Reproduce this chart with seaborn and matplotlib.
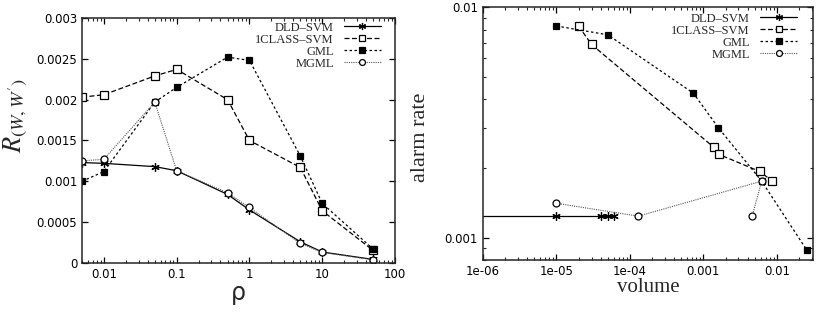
import numpy as np
import matplotlib
matplotlib.use("Agg")
import matplotlib.pyplot as plt
import matplotlib.ticker as mticker
import seaborn as sns
import pandas as pd

# left panel: R(W,W') against rho
rho = [0.005, 0.01, 0.05, 0.1, 0.5, 1, 5, 10, 50]
r_dld = [0.00123, 0.00122, 0.00118, 0.00113, 0.00084, 0.00065, 0.00026, 0.000135, 0.000044]
r_1class = [0.00203, 0.00206, 0.00229, 0.00237, 0.00200, 0.00150, 0.00117, 0.00064, 0.000155]
r_gml = [0.00100, 0.00112, 0.00197, 0.00215, 0.00252, 0.00248, 0.00131, 0.00073, 0.000172]
r_mgml = [0.00125, 0.00127, 0.00197, 0.00113, 0.00086, 0.00068, 0.00024, 0.00013, 0.00004]

# right panel: alarm rate against volume
vol_dld = [1e-7, 1e-5, 4e-5, 5e-5, 6e-5]
ar_dld = [0.00124, 0.00124, 0.00124, 0.00124, 0.00124]
vol_1class = [2.0e-5, 3.0e-5, 1.38e-3, 1.62e-3, 5.8e-3, 8.7e-3]
ar_1class = [0.0083, 0.0069, 0.00247, 0.0023, 0.00194, 0.00176]
vol_gml = [1e-5, 5e-5, 7.3e-4, 1.6e-3, 6.2e-3, 0.0257]
ar_gml = [0.0083, 0.0076, 0.00424, 0.0030, 0.00176, 0.00088]
vol_mgml = [1e-5, 1.3e-4, 6.2e-3, 4.6e-3]
ar_mgml = [0.00141, 0.00124, 0.00176, 0.00124]

labels = ["DLD\u2013SVM", "1CLASS\u2013SVM", "GML", "MGML"]

sns.set_style("ticks")
plt.rcParams["font.family"] = ["DejaVu Sans"]
plt.rcParams["mathtext.fontset"] = "stix"
plt.rcParams["xtick.direction"] = "in"
plt.rcParams["ytick.direction"] = "in"
plt.rcParams["xtick.top"] = True
plt.rcParams["ytick.right"] = True
plt.rcParams["xtick.major.size"] = 4
plt.rcParams["ytick.major.size"] = 4
plt.rcParams["xtick.minor.size"] = 2
plt.rcParams["ytick.minor.size"] = 2
plt.rcParams["axes.linewidth"] = 1.1

styles = [
    dict(marker=(6, 2, 0), markersize=6, linestyle="-", color="black", lw=0.9, mec="black", mew=0.9),
    dict(marker="s", markersize=5.5, mfc="white", linestyle=(0, (4, 2)), color="black", lw=0.9, mec="black", mew=0.9),
    dict(marker="s", markersize=5, linestyle=(0, (2, 2)), color="black", lw=0.9, mec="black", mew=0.9),
    dict(marker="o", markersize=5, mfc="white", linestyle=(0, (1, 1)), color="#555555", lw=0.8, mec="black", mew=0.9),
]

fig = plt.figure(figsize=(8.2, 3.2), dpi=100)
ax1 = fig.add_axes([0.1, 0.178, 0.3817, 0.766])
ax2 = fig.add_axes([0.589, 0.1875, 0.4025, 0.7895])

ax1.set_xscale("log")
for ys, lab, st in zip([r_dld, r_1class, r_gml, r_mgml], labels, styles):
    df = pd.DataFrame({"x": rho, "y": ys})
    sns.lineplot(data=df, x="x", y="y", ax=ax1, sort=False, estimator=None, label=lab, **st)

ax1.set_xlim(0.005, 100)
ax1.set_ylim(0, 0.003)
ax1.xaxis.set_major_locator(mticker.FixedLocator([0.01, 0.1, 1, 10, 100]))
ax1.xaxis.set_major_formatter(mticker.FuncFormatter(lambda v, p: "%g" % v))
ax1.xaxis.set_minor_locator(mticker.LogLocator(base=10, subs=np.arange(2, 10), numticks=20))
ax1.xaxis.set_minor_formatter(mticker.NullFormatter())
ax1.yaxis.set_major_locator(mticker.MultipleLocator(0.0005))
ax1.yaxis.set_major_formatter(mticker.FuncFormatter(lambda v, p: "%g" % round(v, 6)))
ax1.set_xlabel("\u03c1", fontsize=17, labelpad=0)
ax1.set_ylabel(r"$R_{(W,W')}$", fontsize=19)
ax1.yaxis.set_label_coords(-0.165, 0.6)

ax2.set_xscale("log")
ax2.set_yscale("log")
for xs, ys, lab, st in zip([vol_dld, vol_1class, vol_gml, vol_mgml],
                           [ar_dld, ar_1class, ar_gml, ar_mgml], labels, styles):
    df = pd.DataFrame({"x": xs, "y": ys})
    sns.lineplot(data=df, x="x", y="y", ax=ax2, sort=False, estimator=None, label=lab, **st)

ax2.set_xlim(1e-6, 0.031)
ax2.set_ylim(0.0008, 0.01)
ax2.xaxis.set_major_locator(mticker.FixedLocator([1e-6, 1e-5, 1e-4, 1e-3, 1e-2]))
ax2.xaxis.set_major_formatter(mticker.FixedFormatter(["1e-06", "1e-05", "1e-04", "0.001", "0.01"]))
ax2.xaxis.set_minor_locator(mticker.LogLocator(base=10, subs=np.arange(2, 10), numticks=20))
ax2.xaxis.set_minor_formatter(mticker.NullFormatter())
ax2.yaxis.set_major_locator(mticker.FixedLocator([0.001, 0.01]))
ax2.yaxis.set_major_formatter(mticker.FixedFormatter(["0.001", "0.01"]))
ax2.yaxis.set_minor_locator(mticker.LogLocator(base=10, subs=np.arange(2, 10), numticks=20))
ax2.yaxis.set_minor_formatter(mticker.NullFormatter())
ax2.set_xlabel("volume", fontsize=15, family="Liberation Serif", labelpad=0)
ax2.set_ylabel("alarm rate", fontsize=16, family="Liberation Serif")
ax2.yaxis.set_label_coords(-0.16, 0.487)

for ax, anchor in ((ax1, (0.98, 1.015)), (ax2, (0.975, 1.008))):
    ax.tick_params(labelsize=8.5, colors="black", width=0.9)
    ax.tick_params(which="minor", width=0.8)
    leg = ax.legend(loc="upper right", bbox_to_anchor=anchor, markerfirst=False,
                    frameon=False, prop={"family": "Liberation Serif", "size": 9},
                    handlelength=3.0, labelspacing=0.0, borderaxespad=0.2,
                    handletextpad=0.8, markerscale=0.85)

fig.savefig("out.png", dpi=100)
